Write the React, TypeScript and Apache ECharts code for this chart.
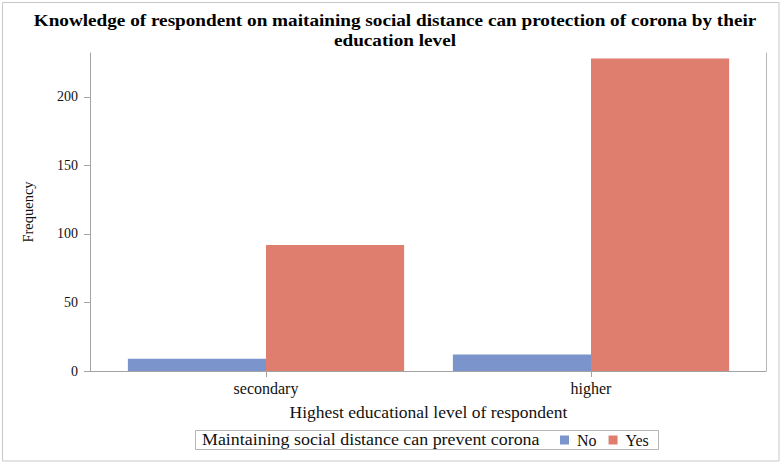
import React, { useEffect, useRef } from "react";
import * as echarts from "echarts";

const titleLines = [
  "Knowledge of respondent on maitaining social distance can protection of corona by their",
  "education level",
];
const categories = ["secondary", "higher"];
const seriesNames = ["No", "Yes"];
const noValues = [9, 12];
const yesValues = [92, 228];
const yTicks = [0, 50, 100, 150, 200];
const yMax = 232;
const xAxisTitle = "Highest educational level of respondent";
const yAxisTitle = "Frequency";
const legendTitle = "Maintaining social distance can prevent corona";

const FONT = "Liberation Serif, Times New Roman, serif";
const BLUE = "#7b94cc";
const RED = "#df7d6e";
const AXIS = "#a3a3a3";

export default function App() {
  const ref = useRef<HTMLDivElement>(null);
  useEffect(() => {
    if (!ref.current) return;
    const chart = echarts.init(ref.current, undefined, { renderer: "svg" });
    chart.setOption({
      animation: false,
      backgroundColor: "#ffffff",
      textStyle: { fontFamily: FONT, color: "#111" },
      legend: {
        data: seriesNames,
        left: 560,
        top: 432,
        padding: 0,
        itemWidth: 9,
        itemHeight: 9,
        itemGap: 12,
        icon: "rect",
        textStyle: {
          fontFamily: FONT,
          fontSize: 16,
          color: "#111",
          padding: [0, 0, 0, 3],
        },
      },
      graphic: [
        {
          type: "rect",
          shape: { x: 2.5, y: 2.5, width: 776.5, height: 458.5 },
          style: { fill: "none", stroke: "#c8c8c8", lineWidth: 1 },
          silent: true,
        },
        {
          type: "text",
          x: 395,
          y: 21,
          scaleX: 1.2,
          style: {
            text: titleLines[0],
            fontFamily: FONT,
            fontSize: 16,
            fontWeight: "bold",
            fill: "#000",
            textAlign: "center",
            textVerticalAlign: "middle",
            verticalAlign: "middle",
          },
          silent: true,
        },
        {
          type: "text",
          x: 395,
          y: 41,
          scaleX: 1.2,
          style: {
            text: titleLines[1],
            fontFamily: FONT,
            fontSize: 16,
            fontWeight: "bold",
            fill: "#000",
            textAlign: "center",
            textVerticalAlign: "middle",
            verticalAlign: "middle",
          },
          silent: true,
        },
        {
          type: "rect",
          shape: { x: 195.5, y: 430.5, width: 463, height: 19 },
          style: { fill: "none", stroke: "#b5b5b5", lineWidth: 1 },
          silent: true,
        },
        {
          type: "text",
          x: 202,
          y: 440,
          scaleX: 1.12,
          style: {
            text: legendTitle,
            fontFamily: FONT,
            fontSize: 16,
            fill: "#111",
            verticalAlign: "middle",
            textVerticalAlign: "middle",
          },
          silent: true,
        },
      ],
      grid: [
        { left: 103.5, right: 28.5, top: 53, bottom: 93 },
        { left: 90, right: 16, top: 53, bottom: 93 },
      ],
      xAxis: [
        {
          type: "category",
          gridIndex: 0,
          data: categories,
          axisLine: { show: true, lineStyle: { color: AXIS } },
          axisTick: {
            show: true,
            alignWithLabel: true,
            length: 6,
            lineStyle: { color: AXIS },
          },
          axisLabel: { fontFamily: FONT, fontSize: 16, color: "#111", margin: 9 },
          name: xAxisTitle,
          nameLocation: "middle",
          nameGap: 32,
          nameTextStyle: { fontFamily: FONT, fontSize: 17.5, color: "#111" },
        },
        {
          type: "value",
          gridIndex: 1,
          axisLine: { show: true, lineStyle: { color: AXIS } },
          axisTick: { show: false },
          axisLabel: { show: false },
          splitLine: { show: false },
        },
      ],
      yAxis: [
        {
          type: "value",
          gridIndex: 0,
          min: 0,
          max: yMax,
          show: false,
          splitLine: { show: false },
        },
        {
          type: "value",
          gridIndex: 1,
          min: 0,
          max: yMax,
          position: "left",
          axisLine: { show: true, lineStyle: { color: AXIS } },
          axisTick: {
            show: true,
            length: 6,
            lineStyle: { color: AXIS },
            customValues: yTicks,
          },
          axisLabel: {
            fontFamily: FONT,
            fontSize: 14,
            color: "#111",
            margin: 12,
            customValues: yTicks,
          },
          splitLine: { show: false },
          name: yAxisTitle,
          nameLocation: "middle",
          nameRotate: 90,
          nameGap: 55,
          nameTextStyle: { fontFamily: FONT, fontSize: 14.5, color: "#111" },
        },
        {
          type: "value",
          gridIndex: 1,
          min: 0,
          max: yMax,
          position: "right",
          axisLine: { show: true, lineStyle: { color: "#b8b8b8" } },
          axisTick: { show: false },
          axisLabel: { show: false },
          splitLine: { show: false },
        },
      ],
      series: [
        {
          name: seriesNames[0],
          type: "bar",
          xAxisIndex: 0,
          yAxisIndex: 0,
          data: noValues,
          barGap: "0%",
          barCategoryGap: "15%",
          itemStyle: { color: BLUE },
        },
        {
          name: seriesNames[1],
          type: "bar",
          xAxisIndex: 0,
          yAxisIndex: 0,
          data: yesValues,
          barGap: "0%",
          barCategoryGap: "15%",
          itemStyle: { color: RED },
        },
      ],
    });
    return () => chart.dispose();
  }, []);
  return (
    <div
      ref={ref}
      style={{ position: "absolute", left: 0, top: 0, width: 782, height: 464 }}
    />
  );
}
